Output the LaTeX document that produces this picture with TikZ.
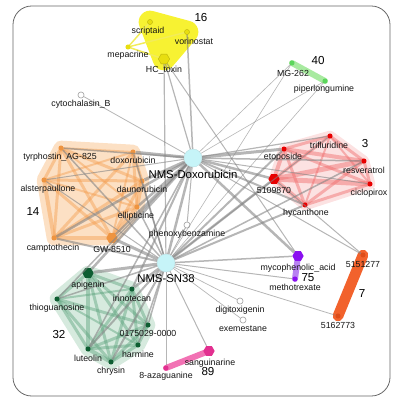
\documentclass[tikz,border=0pt]{standalone}
\usepackage{fontspec}
\setmainfont{Liberation Sans}
\usetikzlibrary{shapes.geometric}
\definecolor{orHull}{HTML}{FCE0C4}
\definecolor{orLine}{HTML}{F59E50}
\definecolor{orNode}{HTML}{EE9440}
\definecolor{rdHull}{HTML}{FCE2E2}
\definecolor{rdLine}{HTML}{F06A6A}
\definecolor{rdNode}{HTML}{E80000}
\definecolor{grHull}{HTML}{D6EADE}
\definecolor{grLine}{HTML}{5EA47E}
\definecolor{grNode}{HTML}{0E5E32}
\definecolor{ylHull}{HTML}{F7F232}
\definecolor{ylLine}{HTML}{F2EC5A}
\definecolor{ylNode}{HTML}{E8DE10}
\definecolor{hub}{HTML}{C6F4F8}
\definecolor{edgeGray}{HTML}{858585}
\definecolor{lgLine}{HTML}{A8EAA0}
\definecolor{lgNode}{HTML}{5CD65C}
\definecolor{puLine}{HTML}{B882F2}
\definecolor{puNode}{HTML}{8A10F0}
\definecolor{ogLine}{HTML}{F2622C}
\definecolor{ogNode}{HTML}{DE4C18}
\definecolor{pkLine}{HTML}{F272B4}
\definecolor{pkNode}{HTML}{E23090}
\tikzset{
  dotn/.style={circle, inner sep=0pt, minimum size=3.8pt, fill=#1},
  hexn/.style={regular polygon, regular polygon sides=6, inner sep=0pt, minimum size=8.5pt, fill=#1},
  wnode/.style={circle, inner sep=0pt, minimum size=4.6pt, fill=white, draw=gray!70, line width=0.5pt},
  hubn/.style={circle, inner sep=0pt, minimum size=13.5pt, fill=hub, draw=hub!80!gray, line width=0.3pt},
  lbl/.style={font=\fontsize{6.6}{7}\selectfont, inner sep=0pt, text=black!92},
  hlbl/.style={font=\fontsize{8.5}{9}\selectfont, inner sep=0pt, text=black},
  num/.style={font=\fontsize{8.7}{9}\selectfont, inner sep=0pt, text=black},
  ge/.style={draw=edgeGray, draw opacity=0.6, line width=#1*0.75pt},
  ie/.style={line width=#1*0.75pt, draw opacity=0.45},
}
\begin{document}
\begin{tikzpicture}[x=0.75pt,y=-0.75pt]
\useasboundingbox (0,0) rectangle (404,404);
% frame
\draw[gray!80!black, line width=0.6pt, rounded corners=14pt] (13,6) rectangle (390,396);
% coordinates
\coordinate (p-scr) at (150,22); \coordinate (p-vor) at (187,32);
\coordinate (p-mep) at (128,47); \coordinate (p-hct) at (164,59);
\coordinate (p-mg) at (292,63); \coordinate (p-pip) at (325,81);
\coordinate (p-tri) at (330,136); \coordinate (p-eto) at (284,149);
\coordinate (p-res) at (364,161); \coordinate (p-s51) at (274,179);
\coordinate (p-cic) at (370,184); \coordinate (p-hyc) at (305,205);
\coordinate (p-dxh) at (193,158); \coordinate (p-snh) at (166,263);
\coordinate (p-tyr) at (61,148); \coordinate (p-dox) at (133,152);
\coordinate (p-als) at (44,180); \coordinate (p-dau) at (142,181);
\coordinate (p-ell) at (137,207); \coordinate (p-cam) at (54,238);
\coordinate (p-gw) at (112,238);
\coordinate (p-cyt) at (81,95); \coordinate (p-phe) at (187,225);
\coordinate (p-dig) at (240,301); \coordinate (p-exe) at (243,320);
\coordinate (p-myc) at (298,256); \coordinate (p-met) at (295,279);
\coordinate (p-a51) at (363,255); \coordinate (p-a62) at (338,316);
\coordinate (p-san) at (209,351); \coordinate (p-aza) at (166,368);
\coordinate (p-api) at (88,273); \coordinate (p-iri) at (132,289);
\coordinate (p-thi) at (57,299); \coordinate (p-017) at (148,325);
\coordinate (p-lut) at (88,349); \coordinate (p-har) at (138,345);
\coordinate (p-chr) at (111,362);
% hulls
\filldraw[fill=orHull, draw=orHull, line width=11pt, line join=round]
  (p-tyr) -- (p-dox) -- (p-dau) -- (p-ell) -- (p-gw) -- (p-cam) -- (p-als) -- cycle;
\filldraw[fill=rdHull, draw=rdHull, line width=8pt, line join=round]
  (p-eto) -- (p-tri) -- (p-res) -- (p-cic) -- (p-hyc) -- (p-s51) -- cycle;
\filldraw[fill=grHull, draw=grHull, line width=11pt, line join=round]
  (p-api) -- (p-iri) -- (p-017) -- (p-har) -- (p-chr) -- (p-lut) -- (p-thi) -- cycle;
\filldraw[fill=ylHull, draw=ylHull, line width=17pt, line join=round]
  (p-scr) -- (p-vor) -- (p-hct) -- cycle;
% intra-cluster lines
\foreach \a/\b/\w in {tyr/dox/2,tyr/als/3,tyr/dau/3,tyr/ell/2,tyr/gw/3,tyr/cam/3,dox/als/2,dox/dau/3,dox/ell/3,dox/gw/2,dox/cam/3,
  als/dau/3,als/ell/2,als/gw/3,als/cam/4,dau/ell/4,dau/gw/3,dau/cam/3,ell/gw/4,ell/cam/3,gw/cam/4}
  \draw[orLine, ie=\w] (p-\a) -- (p-\b);
\foreach \a/\b/\w in {eto/tri/3,eto/res/4,eto/s51/4,eto/cic/3,eto/hyc/3,tri/res/3,tri/s51/3,tri/cic/2,tri/hyc/2,
  res/s51/5,res/cic/3,res/hyc/3,s51/cic/5,s51/hyc/4,cic/hyc/3}
  \draw[rdLine, ie=\w] (p-\a) -- (p-\b);
\foreach \a/\b/\w in {api/iri/3,api/thi/3,api/017/3,api/lut/4,api/har/3,api/chr/3,iri/thi/2,iri/017/3,iri/lut/3,iri/har/3,iri/chr/3,
  thi/017/3,thi/lut/3,thi/har/2,thi/chr/3,017/lut/3,017/har/3,017/chr/3,lut/har/3,lut/chr/4,har/chr/3}
  \draw[grLine, ie=\w] (p-\a) -- (p-\b);
\foreach \b in {scr,vor,hct}
  \draw[ylLine, line width=1.1pt] (p-mep) -- (p-\b);
% pair clusters
\draw[lgLine, line width=4.5pt, line cap=round] (p-mg) -- (p-pip);
\draw[puLine, line width=4.5pt, line cap=round] (p-myc) -- (p-met);
\draw[ogLine, line width=8pt, line cap=round] (p-a51) -- (p-a62);
\draw[pkLine, line width=4.5pt, line cap=round] (p-san) -- (p-aza);
% nodes
\node[dotn=ylNode, draw=ylNode!80!black, line width=0.3pt] (scr) at (p-scr) {};
\node[dotn=ylNode, draw=ylNode!80!black, line width=0.3pt] (vor) at (p-vor) {};
\node[dotn=ylNode] (mep) at (p-mep) {};
\node[hexn=ylNode, draw=ylNode!80!black, line width=0.3pt] (hct) at (p-hct) {};
\node[dotn=lgNode] (mg) at (p-mg) {};
\node[dotn=lgNode] (pip) at (p-pip) {};
\node[dotn=rdNode] (tri) at (p-tri) {};
\node[dotn=rdNode] (eto) at (p-eto) {};
\node[dotn=rdNode] (res) at (p-res) {};
\node[hexn=rdNode] (s51) at (p-s51) {};
\node[dotn=rdNode] (cic) at (p-cic) {};
\node[dotn=rdNode] (hyc) at (p-hyc) {};
\node[dotn=orNode] (tyr) at (p-tyr) {};
\node[dotn=orNode] (dox) at (p-dox) {};
\node[dotn=orNode] (als) at (p-als) {};
\node[dotn=orNode] (dau) at (p-dau) {};
\node[dotn=orNode] (ell) at (p-ell) {};
\node[dotn=orNode] (cam) at (p-cam) {};
\node[hexn=orNode] (gw) at (p-gw) {};
\node[wnode] (cyt) at (p-cyt) {};
\node[wnode] (phe) at (p-phe) {};
\node[wnode] (dig) at (p-dig) {};
\node[wnode] (exe) at (p-exe) {};
\node[hexn=puNode] (myc) at (p-myc) {};
\node[dotn=puNode] (met) at (p-met) {};
\node[dotn=ogNode] (a51) at (p-a51) {};
\node[dotn=ogNode] (a62) at (p-a62) {};
\node[hexn=pkNode] (san) at (p-san) {};
\node[dotn=pkNode] (aza) at (p-aza) {};
\node[hexn=grNode] (api) at (p-api) {};
\node[dotn=grNode] (iri) at (p-iri) {};
\node[dotn=grNode] (thi) at (p-thi) {};
\node[dotn=grNode] (017) at (p-017) {};
\node[dotn=grNode] (lut) at (p-lut) {};
\node[dotn=grNode] (har) at (p-har) {};
\node[dotn=grNode] (chr) at (p-chr) {};
\node[hubn] (dxh) at (p-dxh) {};
\node[hubn] (snh) at (p-snh) {};
% grey edges
\foreach \b/\w in {vor/1.5,hct/1.2,cyt/0.8,mg/0.6,pip/0.6,eto/3,tri/1.2,res/1.5,s51/2.5,cic/1,hyc/2,
  dox/3,tyr/1.5,dau/3,ell/2.5,cam/2.5,gw/2,als/1,phe/1,snh/2.5,myc/2.5,api/2.5,iri/2,lut/1.5,thi/1.5,a51/1}
  \draw[ge=\w] (dxh) -- (\b);
\foreach \b/\w in {hct/1.2,mg/0.6,pip/0.6,eto/2,s51/2.5,tri/1,res/1.5,hyc/2,myc/1.5,met/1,a62/0.8,dig/0.7,exe/0.7,
  san/1,aza/1,api/3,iri/2.5,thi/1.5,lut/2,chr/2,har/1.5,017/1.5,gw/3,cam/2,ell/1.5,dau/1.5,dox/1.5,tyr/1.5,phe/1,als/1}
  \draw[ge=\w] (snh) -- (\b);
\draw[ge=1] (s51) -- (a51);
\draw[ge=1] (hct) -- (myc);
% labels
\node[lbl] (t-scr) at (148,31) {scriptaid};
\node[lbl] (t-vor) at (194,41) {vorinostat};
\node[lbl] (t-mep) at (128,55) {mepacrine};
\node[lbl] (t-hct) at (164,70) {HC\_toxin};
\node[lbl] (t-mg) at (293,73) {MG-262};
\node[lbl] (t-pip) at (324,89) {piperlongumine};
\node[lbl] (t-tri) at (329,145) {trifluridine};
\node[lbl] (t-eto) at (283,157) {etoposide};
\node[lbl] (t-res) at (364,170) {resveratrol};
\node[lbl] (t-s51) at (274,190) {5109870};
\node[lbl] (t-cic) at (369,193) {ciclopirox};
\node[lbl] (t-hyc) at (306,213) {hycanthone};
\node[hlbl] (t-dxh) at (193,174) {NMS-Doxorubicin};
\node[hlbl] (t-snh) at (166,279) {NMS-SN38};
\node[lbl] (t-tyr) at (60,157) {tyrphostin\_AG-825};
\node[lbl] (t-dox) at (133,160) {doxorubicin};
\node[lbl] (t-als) at (48,189) {alsterpaullone};
\node[lbl] (t-dau) at (142,189) {daunorubicin};
\node[lbl] (t-ell) at (136,216) {ellipticine};
\node[lbl] (t-cam) at (53,248) {camptothecin};
\node[lbl] (t-gw) at (112,249) {GW-8510};
\node[lbl] (t-cyt) at (81,104) {cytochalasin\_B};
\node[lbl] (t-phe) at (187,234) {phenoxybenzamine};
\node[lbl] (t-dig) at (240,310) {digitoxigenin};
\node[lbl] (t-exe) at (243,329) {exemestane};
\node[lbl] (t-myc) at (298,268) {mycophenolic\_acid};
\node[lbl] (t-met) at (295,287) {methotrexate};
\node[lbl] (t-a51) at (363,264) {5151277};
\node[lbl] (t-a62) at (338,325) {5162773};
\node[lbl] (t-san) at (210,363) {sanguinarine};
\node[lbl] (t-aza) at (166,376) {8-azaguanine};
\node[lbl] (t-api) at (88,285) {apigenin};
\node[lbl] (t-iri) at (132,298) {irinotecan};
\node[lbl] (t-thi) at (57,308) {thioguanosine};
\node[lbl] (t-017) at (148,333) {0175029-0000};
\node[lbl] (t-lut) at (88,358) {luteolin};
\node[lbl] (t-har) at (138,354) {harmine};
\node[lbl] (t-chr) at (111,371) {chrysin};
% cluster numbers
\node[num] (n16) at (201,18) {16};
\node[num] (n40) at (318,61) {40};
\node[num] (n3) at (365,144) {3};
\node[num] (n14) at (33,212) {14};
\node[num] (n75) at (308,278) {75};
\node[num] (n7) at (362,294) {7};
\node[num] (n32) at (59,335) {32};
\node[num] (n89) at (208,372) {89};
\end{tikzpicture}
\end{document}
